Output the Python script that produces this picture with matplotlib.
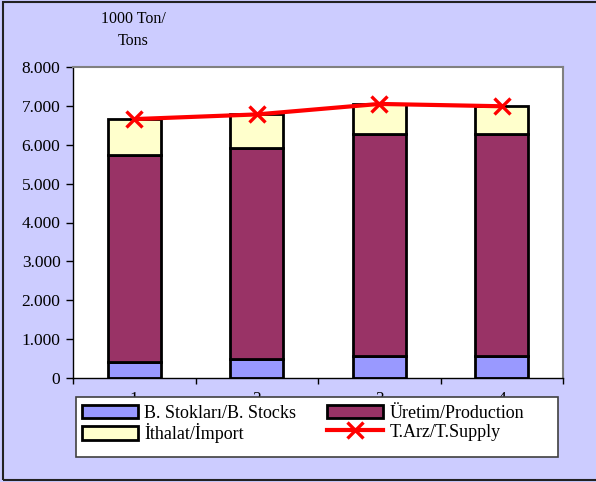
import matplotlib
matplotlib.use("Agg")
import matplotlib.pyplot as plt
import matplotlib.patches as mpatches
import numpy as np

plt.rcParams['font.family'] = ['Liberation Serif', 'DejaVu Serif']

categories = ["1", "2", "3", "4"]
stocks = [420, 500, 565, 565]
production = [5326, 5420, 5700, 5700]
imports = [916, 862, 786, 726]
supply = [6660, 6780, 7050, 6990]
yticks = [0, 1000, 2000, 3000, 4000, 5000, 6000, 7000, 8000]
ytick_labels = ["0", "1.000", "2.000", "3.000", "4.000", "5.000", "6.000", "7.000", "8.000"]

bg = "#CCCCFF"
fig = plt.figure(figsize=(5.96, 4.82), dpi=100, facecolor=bg)
ax = fig.add_axes([73/596, 1-378/482, (563-73)/596, (378-67)/482])
ax.set_facecolor("white")

x = np.arange(1, len(categories) + 1)
w = 0.43
ec = "black"
lw = 2.0
b1 = ax.bar(x, stocks, w, color="#9999FF", edgecolor=ec, linewidth=lw, zorder=2)
b2 = ax.bar(x, production, w, bottom=stocks, color="#993366", edgecolor=ec, linewidth=lw, zorder=2)
bot3 = np.array(stocks) + np.array(production)
b3 = ax.bar(x, imports, w, bottom=bot3, color="#FFFFCC", edgecolor=ec, linewidth=lw, zorder=2)
ln, = ax.plot(x, supply, color="#FF0000", lw=3, marker="x", ms=12, mew=2.4, zorder=3, clip_on=False)

ax.set_xlim(0.5, 4.5)
ax.set_ylim(0, 8000)
ax.set_yticks(yticks)
ax.set_yticklabels(ytick_labels, fontsize=12.5)
ax.set_xticks(x)
ax.set_xticklabels(categories, fontsize=12.5)
ax.set_xticks(np.arange(0.5, 4.6, 1.0), minor=True)
ax.tick_params(axis="x", which="major", length=0, pad=9.5)
ax.tick_params(axis="x", which="minor", length=4, width=1, direction="out")
ax.tick_params(axis="y", length=5, width=1, direction="out", pad=4)

for s in ["top", "right"]:
    ax.spines[s].set_color("#808080")
    ax.spines[s].set_linewidth(1.5)
for s in ["left", "bottom"]:
    ax.spines[s].set_color("black")
    ax.spines[s].set_linewidth(1.0)

fig.text(133/596, 1-19/482, "1000 Ton/", ha="center", va="center", fontsize=11.5)
fig.text(133/596, 1-41/482, "Tons", ha="center", va="center", fontsize=11.5)

frame = mpatches.Rectangle((3/596, 1-480/482), 1.0, (480-2)/482, transform=fig.transFigure,
                           fill=False, edgecolor="#222222", linewidth=1.5, zorder=0)
fig.patches.append(frame)

legbox = mpatches.Rectangle((76/596, 1-457/482), (558-76)/596, (457-397)/482, transform=fig.transFigure,
                            facecolor="white", edgecolor="#404040", linewidth=1.2, zorder=5)
fig.patches.append(legbox)

leg = fig.legend([b1, b3, b2, ln],
                 ["B. Stokları/B. Stocks", "İthalat/İmport", "Üretim/Production", "T.Arz/T.Supply"],
                 ncol=2, loc="upper left",
                 bbox_to_anchor=(82/596, 1-404.5/482),
                 fontsize=13, frameon=False,
                 handlelength=3.1, handleheight=0.8, handletextpad=0.35,
                 labelspacing=0.1, borderaxespad=0, borderpad=0, columnspacing=1.7)
leg.set_zorder(6)

fig.savefig("out.png", dpi=100, facecolor=bg)
